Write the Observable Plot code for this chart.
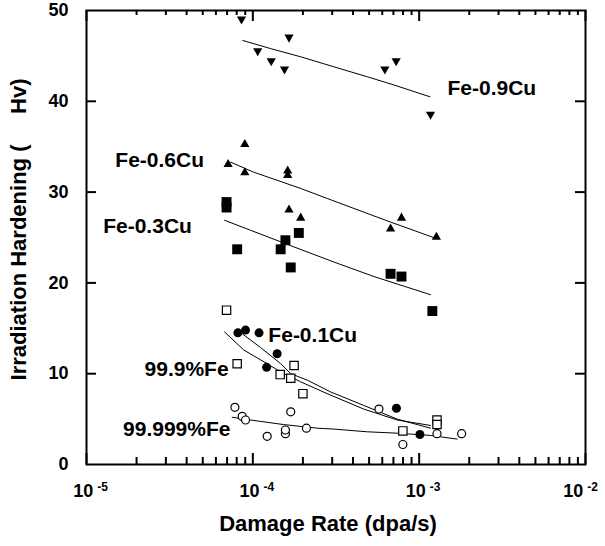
<!DOCTYPE html>
<html><head><meta charset="utf-8">
<script src="https://cdn.jsdelivr.net/npm/d3@7"></script>
<script src="https://cdn.jsdelivr.net/npm/@observablehq/plot@0.6"></script>
<style>
body{margin:0;background:#fff;overflow:hidden}
svg{display:block}
</style>
</head><body><div id="chart"></div>
<script>
// ---- data (damage rate in dpa/s, hardening in Hv) ----
const fe09X = [8.55e-5, 1.07e-4, 1.29e-4, 1.55e-4, 1.65e-4, 6.22e-4, 7.27e-4, 1.17e-3];
const fe09Y = [48.9, 45.4, 44.3, 43.4, 46.9, 43.4, 44.3, 38.4];
const fe09FitX = [8.7e-5, 1.28e-4, 1.94e-4, 3.07e-4, 4.88e-4, 7.05e-4, 1.16e-3];
const fe09FitY = [46.7, 45.8, 44.9, 43.8, 42.7, 41.8, 40.5];

const fe06X = [7.1e-5, 8.95e-5, 8.95e-5, 1.62e-4, 1.62e-4, 1.65e-4, 1.94e-4, 6.73e-4, 7.83e-4, 1.27e-3];
const fe06Y = [33.2, 35.4, 32.3, 32.0, 32.5, 28.2, 27.3, 26.1, 27.3, 25.2];
const fe06FitX = [7.35e-5, 1.01e-4, 1.40e-4, 1.94e-4, 2.80e-4, 4.05e-4, 6.73e-4, 1.22e-3];
const fe06FitY = [33.3, 32.2, 31.3, 30.4, 29.3, 28.2, 26.7, 25.0];

const fe03X = [6.95e-5, 6.95e-5, 8.05e-5, 1.47e-4, 1.57e-4, 1.89e-4, 1.69e-4, 6.73e-4, 7.83e-4, 1.2e-3];
const fe03Y = [28.9, 28.3, 23.7, 23.7, 24.7, 25.5, 21.7, 21.0, 20.7, 16.9];
const fe03FitX = [6.76e-5, 9.68e-5, 1.69e-4, 3.07e-4, 5.35e-4, 1.17e-3];
const fe03FitY = [26.9, 25.8, 24.1, 22.3, 20.7, 18.7];

const fe01X = [8.13e-5, 9.04e-5, 1.09e-4, 1.40e-4, 1.21e-4, 7.3e-4, 1.01e-3];
const fe01Y = [14.5, 14.8, 14.5, 12.2, 10.7, 6.2, 3.3];
const fe01FitX = [8.63e-5, 1.11e-4, 1.47e-4, 1.69e-4, 2.12e-4, 2.93e-4, 4.65e-4, 7.38e-4, 1.17e-3];
const fe01FitY = [14.4, 12.9, 11.1, 10.0, 9.3, 8.0, 6.5, 5.0, 4.0];

const fe999X = [6.95e-5, 8.05e-5, 1.46e-4, 1.69e-4, 1.77e-4, 2.0e-4, 7.98e-4, 1.28e-3, 1.28e-3];
const fe999Y = [17.0, 11.1, 9.9, 9.5, 10.9, 7.8, 3.7, 4.9, 4.4];
const fe999FitX = [6.76e-5, 8.83e-5, 1.22e-4, 1.47e-4, 1.94e-4, 2.80e-4, 4.65e-4, 7.38e-4, 1.17e-3];
const fe999FitY = [14.6, 12.6, 11.1, 10.2, 9.1, 7.8, 6.1, 4.9, 4.3];

const fe99999X = [7.8e-5, 8.63e-5, 9.04e-5, 1.22e-4, 1.57e-4, 1.57e-4, 1.69e-4, 2.1e-4, 5.73e-4, 7.98e-4, 1.28e-3, 1.8e-3];
const fe99999Y = [6.3, 5.3, 4.9, 3.1, 3.4, 3.8, 5.8, 4.0, 6.1, 2.2, 3.4, 3.4];
const fe99999FitX = [7.52e-5, 9.68e-5, 1.53e-4, 2.44e-4, 3.07e-4, 4.88e-4, 7.38e-4, 1.17e-3, 1.69e-3];
const fe99999FitY = [5.2, 4.9, 4.4, 4.0, 3.9, 3.6, 3.45, 3.2, 2.8];

const labelNames = ["Fe-0.9Cu", "Fe-0.6Cu", "Fe-0.3Cu", "Fe-0.1Cu", "99.9%Fe", "99.999%Fe"];
const labelX = [1.48e-3, 1.49e-5, 1.26e-5, 1.24e-4, 7.15e-5, 7.34e-5];
const labelY = [41.4, 33.5, 26.2, 14.2, 10.5, 3.9];
const labelEndAnchored = ["99.9%Fe", "99.999%Fe"];

const xDecades = [1e-5, 1e-4, 1e-3, 1e-2];
const xDecadeExponents = ["-5", "-4", "-3", "-2"];
const xMinorMultiples = [2, 3, 4, 5, 6, 7, 8, 9];
const yTicks = [0, 10, 20, 30, 40, 50];
const yInnerTicks = [10, 20, 30, 40];
const xTitle = "Damage Rate (dpa/s)";
const yTitle = "Irradiation Hardening (\u00A0\u00A0\u00A0\u00A0\u00A0Hv)";

// ---- build tables ----
const pts = (xs, ys) => xs.map((x, i) => ({x, y: ys[i]}));
const xMinor = xDecades.slice(0, -1).flatMap(d => xMinorMultiples.map(m => d * m));
const expOf = new Map(xDecades.map((d, i) => [d, xDecadeExponents[i]]));
const labels = labelNames.map((name, i) => ({name, x: labelX[i], y: labelY[i]}));

// custom triangle symbols
const triUp = {draw(ctx, size) {const r = Math.sqrt(size / Math.PI), w = r, h = 1.75 * r;
  ctx.moveTo(0, -h / 2); ctx.lineTo(w, h / 2); ctx.lineTo(-w, h / 2); ctx.closePath();}};
const triDown = {draw(ctx, size) {const r = Math.sqrt(size / Math.PI), w = r, h = 1.75 * r;
  ctx.moveTo(-w, -h / 2); ctx.lineTo(w, -h / 2); ctx.lineTo(0, h / 2); ctx.closePath();}};

const W = 605, H = 546, mL = 86, mR = 20, mT = 10, mB = 82;
const innerW = W - mL - mR, innerH = H - mT - mB;
const fitLine = (xs, ys) => Plot.line(pts(xs, ys), {x: "x", y: "y", stroke: "black", strokeWidth: 1});

const chart = Plot.plot({
  width: W, height: H,
  marginLeft: mL, marginRight: mR, marginTop: mT, marginBottom: mB,
  style: {fontFamily: "'Liberation Sans', Arial, sans-serif", fontWeight: "bold", background: "#fff", color: "#000"},
  x: {type: "log", domain: [1e-5, 1e-2], label: null},
  y: {domain: [0, 50], label: null},
  marks: [
    // fitted lines
    fitLine(fe09FitX, fe09FitY),
    fitLine(fe06FitX, fe06FitY),
    fitLine(fe03FitX, fe03FitY),
    fitLine(fe01FitX, fe01FitY),
    fitLine(fe999FitX, fe999FitY),
    fitLine(fe99999FitX, fe99999FitY),
    // data points
    Plot.dot(pts(fe09X, fe09Y), {x: "x", y: "y", symbol: triDown, r: 4.6, fill: "black"}),
    Plot.dot(pts(fe06X, fe06Y), {x: "x", y: "y", symbol: triUp, r: 4.6, fill: "black"}),
    Plot.dot(pts(fe03X, fe03Y), {x: "x", y: "y", symbol: "square", r: 5.6, fill: "black"}),
    Plot.dot(pts(fe01X, fe01Y), {x: "x", y: "y", r: 4.5, fill: "black"}),
    Plot.dot(pts(fe999X, fe999Y), {x: "x", y: "y", symbol: "square", r: 4.7, fill: "white", stroke: "black", strokeWidth: 1.2}),
    Plot.dot(pts(fe99999X, fe99999Y), {x: "x", y: "y", r: 4, fill: "white", stroke: "black", strokeWidth: 1.2}),
    // frame & inward ticks
    Plot.frame({stroke: "black", strokeWidth: 2}),
    Plot.tickX(xDecades, {x: d => d, insetTop: innerH - 11, strokeWidth: 2}),
    Plot.tickX(xMinor, {x: d => d, insetTop: innerH - 7, strokeWidth: 2}),
    Plot.tickX(xDecades, {x: d => d, insetBottom: innerH - 11, strokeWidth: 2}),
    Plot.tickX(xMinor, {x: d => d, insetBottom: innerH - 5, strokeWidth: 2}),
    Plot.tickY(yInnerTicks, {y: d => d, insetRight: innerW - 10, strokeWidth: 2}),
    Plot.tickY(yInnerTicks, {y: d => d, insetLeft: innerW - 10, strokeWidth: 2}),
    // axes (labels only)
    Plot.axisY(yTicks, {tickSize: 0, tickPadding: 18, fontSize: 18, fontWeight: "bold"}),
    Plot.axisX(xDecades, {tickSize: 0, tickPadding: 20, fontSize: 18, fontWeight: "bold", dx: 4,
      tickFormat: d => "10^" + expOf.get(d)}),
    // series labels
    Plot.text(labels.filter(d => !labelEndAnchored.includes(d.name)), {x: "x", y: "y", text: "name", textAnchor: "start", fontSize: 21, fontWeight: "bold"}),
    Plot.text(labels.filter(d => labelEndAnchored.includes(d.name)), {x: "x", y: "y", text: "name", textAnchor: "end", fontSize: 21, fontWeight: "bold"}),
    // axis titles
    Plot.text([xTitle], {frameAnchor: "bottom", textAnchor: "middle", dy: 66, dx: -8, fontSize: 22, fontWeight: "bold"}),
    Plot.text([yTitle], {frameAnchor: "left", textAnchor: "middle", rotate: -90, dx: -68, dy: -8, fontSize: 22, fontWeight: "bold"})
  ]
});

// superscript exponents on x tick labels
const lastExp = xDecadeExponents[xDecadeExponents.length - 1];
d3.select(chart).selectAll('g[aria-label="x-axis tick label"] text').each(function () {
  const [base, exp] = this.textContent.split("^");
  const t = d3.select(this);
  t.text(base);
  t.append("tspan").attr("dx", 4).attr("dy", "-0.55em").attr("font-size", 12).text(exp);
  if (exp === lastExp) t.attr("dx", -9);
});

document.getElementById("chart").appendChild(chart);
</script>
</body></html>
